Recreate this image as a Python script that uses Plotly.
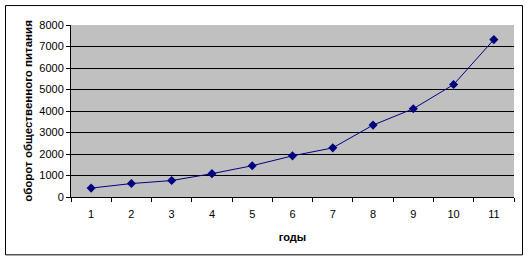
import plotly.graph_objects as go

years = [1, 2, 3, 4, 5, 6, 7, 8, 9, 10, 11]
turnover = [415, 625, 765, 1085, 1455, 1915, 2285, 3345, 4105, 5230, 7320]
y_ticks = [0, 1000, 2000, 3000, 4000, 5000, 6000, 7000, 8000]

W, H = 530, 262
L, R, T, B = 71, 16, 25, 64.5
pw, ph = W - L - R, H - T - B

def px_to_paper_x(px):
    return (px - L) / pw

def px_to_paper_y(py):
    return (H - B - py) / ph

fig = go.Figure()
fig.add_trace(go.Scatter(
    x=years, y=turnover, mode="lines+markers",
    line=dict(color="#000080", width=1),
    marker=dict(symbol="diamond", size=7, color="#000080"),
    showlegend=False,
))

font = dict(family="Liberation Sans, Arial, sans-serif", size=11, color="black")

fig.update_layout(
    width=W, height=H,
    margin=dict(l=L, r=R, t=T, b=B),
    paper_bgcolor="white",
    plot_bgcolor="#C0C0C0",
    font=font,
    xaxis=dict(
        range=[0.5, 11.5], tickvals=years, ticktext=[str(v) for v in years],
        ticks="", showgrid=False, zeroline=False,
        showline=True, linecolor="black", linewidth=1,
        ticklabelstandoff=7,
        minor=dict(tickvals=[v - 0.5 for v in years] + [11.5], ticks="outside",
                   ticklen=4, tickcolor="black", showgrid=False),
        title=dict(text="<b>годы</b>", font=dict(size=11), standoff=14),
        fixedrange=True,
    ),
    yaxis=dict(
        range=[0, 8000], tickvals=y_ticks,
        ticks="outside", ticklen=4, tickcolor="black",
        showgrid=True, gridcolor="black", gridwidth=1,
        zeroline=False, showline=True, linecolor="black", linewidth=1,
        title=dict(text="<b>оборот общественного питания</b>", font=dict(size=11.5), standoff=4),
        fixedrange=True,
    ),
    shapes=[dict(
        type="rect", xref="paper", yref="paper",
        x0=px_to_paper_x(5.5), x1=px_to_paper_x(522.5),
        y0=px_to_paper_y(255.5), y1=px_to_paper_y(5.5),
        line=dict(color="black", width=1), fillcolor="rgba(0,0,0,0)", layer="below",
    )],
)

fig.write_html("out.html")
